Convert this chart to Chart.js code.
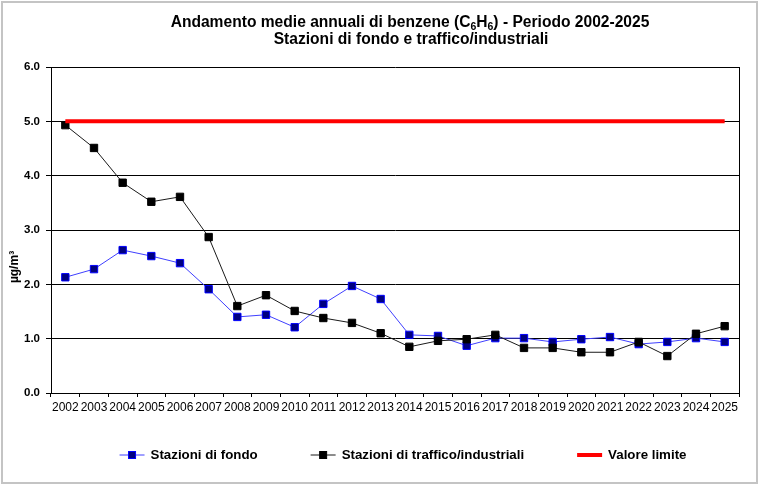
<!DOCTYPE html>
<html>
<head>
<meta charset="utf-8">
<script src="https://cdn.jsdelivr.net/npm/chart.js@4"></script>
<style>
  html, body { margin: 0; padding: 0; background: #fff; }
</style>
</head>
<body>
<canvas id="benzeneChart" width="759" height="486"></canvas>
<script>
// Dati (µg/m³)
const years = ['2002', '2003', '2004', '2005', '2006', '2007', '2008', '2009', '2010', '2011', '2012', '2013',
  '2014', '2015', '2016', '2017', '2018', '2019', '2020', '2021', '2022', '2023', '2024', '2025'];
const fondo = [2.13, 2.28, 2.63, 2.52, 2.39, 1.91, 1.40, 1.44, 1.21, 1.64, 1.97, 1.73,
  1.07, 1.05, 0.87, 1.01, 1.01, 0.94, 0.99, 1.03, 0.90, 0.94, 1.01, 0.94];
const traffico = [4.93, 4.51, 3.87, 3.52, 3.61, 2.87, 1.60, 1.80, 1.51, 1.38, 1.29, 1.10,
  0.85, 0.96, 0.99, 1.07, 0.83, 0.83, 0.75, 0.75, 0.94, 0.68, 1.09, 1.23];
const valoreLimite = 5.0;
const yTicks = [0, 1, 2, 3, 4, 5, 6];

// Titolo: pezzi di testo, con i pedici di C6H6
const titleLine1 = [
  { t: 'Andamento medie annuali di benzene (C' }, { t: '6', sub: true },
  { t: 'H' }, { t: '6', sub: true }, { t: ') - Periodo 2002-2025' }
];
const titleLine2 = [{ t: 'Stazioni di fondo e traffico/industriali' }];

const FONT = '"Liberation Sans", Arial, sans-serif';
Chart.defaults.font.family = FONT;
Chart.defaults.color = '#000';

// Sfondo bianco e cornice grigia esterna
const framePlugin = {
  id: 'frame',
  beforeDraw(chart) {
    const ctx = chart.ctx;
    ctx.save();
    ctx.fillStyle = '#fff';
    ctx.fillRect(0, 0, chart.width, chart.height);
    ctx.strokeStyle = '#c4c4c4';
    ctx.lineWidth = 2;
    ctx.strokeRect(2, 2, 755, 481);
    ctx.restore();
  },
  afterDatasetsDraw(chart) {
    // bordo destro dell'area del grafico
    const { ctx, chartArea } = chart;
    ctx.save();
    ctx.strokeStyle = '#000';
    ctx.lineWidth = 1;
    ctx.beginPath();
    ctx.moveTo(Math.round(chartArea.right) + 0.5, chartArea.top);
    ctx.lineTo(Math.round(chartArea.right) + 0.5, chartArea.bottom);
    ctx.stroke();
    ctx.restore();
  }
};

// Titolo su due righe con pedici
const titlePlugin = {
  id: 'richTitle',
  afterDraw(chart) {
    const ctx = chart.ctx;
    const size = 15.6;
    const subSize = 10.5;
    const drawLine = (parts, cx, baseline) => {
      const widths = parts.map(p => {
        ctx.font = 'bold ' + (p.sub ? subSize : size) + 'px ' + FONT;
        return ctx.measureText(p.t).width;
      });
      let x = cx - widths.reduce((a, b) => a + b, 0) / 2;
      parts.forEach((p, i) => {
        ctx.font = 'bold ' + (p.sub ? subSize : size) + 'px ' + FONT;
        ctx.fillText(p.t, x, baseline + (p.sub ? 3 : 0));
        x += widths[i];
      });
    };
    ctx.save();
    ctx.fillStyle = '#000';
    ctx.textAlign = 'left';
    ctx.textBaseline = 'alphabetic';
    drawLine(titleLine1, 410, 27);
    drawLine(titleLine2, 411, 44);
    ctx.restore();
  }
};

// Titolo asse Y (posizionato come nell'originale)
const yTitlePlugin = {
  id: 'yTitle',
  afterDraw(chart) {
    const ctx = chart.ctx;
    ctx.save();
    ctx.translate(15, 267);
    ctx.rotate(-Math.PI / 2);
    ctx.font = 'bold 12px ' + FONT;
    ctx.fillStyle = '#000';
    ctx.textAlign = 'center';
    ctx.textBaseline = 'middle';
    ctx.fillText('µg/m³', 0, 0);
    ctx.restore();
  }
};

// Legenda in basso, come in Excel
const legendPlugin = {
  id: 'bottomLegend',
  afterDraw(chart) {
    const ctx = chart.ctx;
    ctx.save();
    ctx.font = 'bold 13.3px ' + FONT;
    ctx.textBaseline = 'middle';
    const items = chart.data.datasets.map(ds => ({ ds, w: 25 + 6 + ctx.measureText(ds.label).width }));
    const gap = 53;
    const total = items.reduce((s, it) => s + it.w, 0) + gap * (items.length - 1);
    let x = 403 - total / 2;
    const y = 455;
    items.forEach(({ ds, w }) => {
      ctx.strokeStyle = ds.borderColor;
      ctx.lineWidth = ds.borderWidth;
      ctx.beginPath();
      ctx.moveTo(x, y);
      ctx.lineTo(x + 25, y);
      ctx.stroke();
      if (ds.pointRadius > 0) {
        ctx.fillStyle = ds.pointBackgroundColor;
        ctx.strokeStyle = ds.pointBorderColor;
        ctx.lineWidth = 1;
        ctx.fillRect(x + 9, y - 3.5, 7, 7);
        ctx.strokeRect(x + 9, y - 3.5, 7, 7);
      }
      ctx.fillStyle = '#000';
      ctx.fillText(ds.label, x + 31, y);
      x += w + gap;
    });
    ctx.restore();
  }
};

const ctx = document.getElementById('benzeneChart').getContext('2d');
const chart = new Chart(ctx, {
  type: 'line',
  data: {
    labels: years,
    datasets: [
      {
        label: 'Stazioni di fondo',
        data: fondo,
        borderColor: '#4040ff',
        borderWidth: 1,
        pointStyle: 'rect',
        pointRadius: 5.2,
        pointBackgroundColor: '#000080',
        pointBorderColor: '#0000ff',
        pointBorderWidth: 1,
        tension: 0,
        order: 3
      },
      {
        label: 'Stazioni di traffico/industriali',
        data: traffico,
        borderColor: '#1a1a1a',
        borderWidth: 1,
        pointStyle: 'rect',
        pointRadius: 5.2,
        pointBackgroundColor: '#000000',
        pointBorderColor: '#000000',
        pointBorderWidth: 1,
        tension: 0,
        order: 2
      },
      {
        label: 'Valore limite',
        data: years.map(() => valoreLimite),
        borderColor: '#ff0000',
        borderWidth: 4,
        pointRadius: 0,
        tension: 0,
        order: 1
      }
    ]
  },
  options: {
    responsive: false,
    animation: false,
    layout: { padding: { left: 0, right: 20, top: 67, bottom: 69 } },
    plugins: {
      legend: { display: false },
      tooltip: { enabled: false },
      title: { display: false }
    },
    scales: {
      x: {
        offset: true,
        grid: { display: true, offset: true, drawOnChartArea: false, drawTicks: true, tickLength: 4, color: '#000' },
        border: { color: '#000', width: 1 },
        ticks: { autoSkip: false, maxRotation: 0, minRotation: 0, padding: 3, color: '#000', font: { size: 12 } },
        afterFit: (s) => { s.height = 24; }
      },
      y: {
        min: 0,
        max: 6,
        afterBuildTicks: (s) => { s.ticks = yTicks.map(v => ({ value: v })); },
        grid: { color: '#000', lineWidth: 1, tickLength: 5 },
        border: { color: '#000', width: 1 },
        ticks: {
          padding: 6,
          color: '#000',
          font: { size: 11.5, weight: 'bold' },
          callback: (v) => Number(v).toFixed(1)
        },
        afterFit: (s) => { s.width = 51; }
      }
    }
  },
  plugins: [framePlugin, titlePlugin, yTitlePlugin, legendPlugin]
});
</script>
</body>
</html>
